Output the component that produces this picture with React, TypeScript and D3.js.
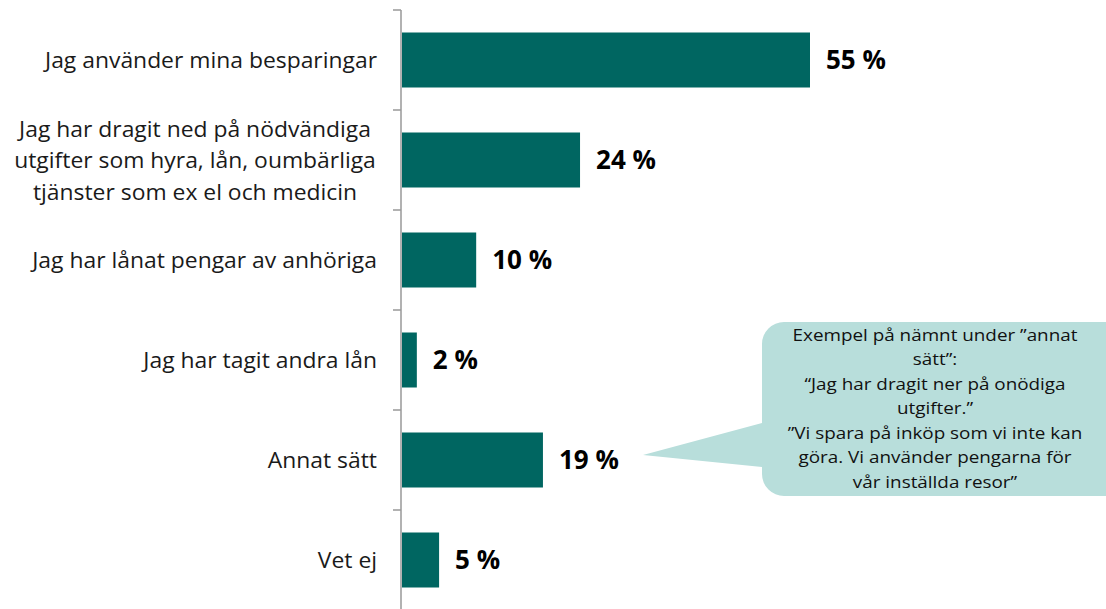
import React from "react";
import * as d3 from "d3";

const categories: string[][] = [
  ["Jag använder mina besparingar"],
  ["Jag har dragit ned på nödvändiga", "utgifter som hyra, lån, oumbärliga", "tjänster som ex el och medicin"],
  ["Jag har lånat pengar av anhöriga"],
  ["Jag har tagit andra lån"],
  ["Annat sätt"],
  ["Vet ej"],
];
const values: number[] = [55, 24, 10, 2, 19, 5];
const valueLabels: string[] = ["55 %", "24 %", "10 %", "2 %", "19 %", "5 %"];
const calloutLines: string[] = [
  "Exempel på nämnt under ”annat",
  "sätt”:",
  "“Jag har dragit ner på onödiga",
  "utgifter.”",
  "”Vi spara på inköp som vi inte kan",
  "göra. Vi använder pengarna för",
  "vår inställda resor”",
];

const W = 1106;
const H = 609;
const FONT = "'Open Sans', sans-serif";

export default function App() {
  const idx = categories.map((_, i) => String(i));
  const y = d3.scaleBand<string>().domain(idx).range([10, 610]).paddingInner(0.45).paddingOuter(0.225);
  const x = d3.scaleLinear().domain([0, 55]).range([402, 810]);
  const axisX = 401;
  const tickYs = d3.range(categories.length + 1).map((i) => 10 + i * 100);

  const cx = 935;
  const rect = { x: 762, y: 322, w: 380, h: 174, r: 22 };
  const tip = { x: 643, y: 455 };
  const calloutPath = (() => {
    const { x: rx, y: ry, w, h, r } = rect;
    const p = d3.path();
    p.moveTo(rx + r, ry);
    p.lineTo(rx + w - r, ry);
    p.arcTo(rx + w, ry, rx + w, ry + r, r);
    p.lineTo(rx + w, ry + h - r);
    p.arcTo(rx + w, ry + h, rx + w - r, ry + h, r);
    p.lineTo(rx + r, ry + h);
    p.arcTo(rx, ry + h, rx, ry + h - r, r);
    p.lineTo(rx, 467);
    p.lineTo(tip.x, tip.y);
    p.lineTo(rx, 423);
    p.lineTo(rx, ry + r);
    p.arcTo(rx, ry, rx + r, ry, r);
    p.closePath();
    return p.toString();
  })();

  const labelSx = 1.09;
  const calloutSx = 1.11;

  return (
    <svg width={W} height={H} style={{ position: "absolute", left: 0, top: 0, display: "block" }}>
      <rect width={W} height={H} fill="#ffffff" />
      <line x1={axisX} x2={axisX} y1={10} y2={H} stroke="#999999" strokeWidth={1.5} />
      {tickYs.map((ty) => (
        <line key={ty} x1={393} x2={axisX} y1={ty} y2={ty} stroke="#999999" strokeWidth={1.5} />
      ))}
      {values.map((v, i) => {
        const by = y(String(i))!;
        const bh = y.bandwidth();
        return (
          <g key={i}>
            <rect x={x(0)} y={by} width={x(v) - x(0)} height={bh} fill="#006661" />
            <text
              x={x(v) + 16}
              y={by + bh / 2}
              dy="0.36em"
              fontFamily={FONT}
              fontWeight={700}
              fontSize={26}
              fill="#000"
            >
              {valueLabels[i]}
            </text>
          </g>
        );
      })}
      {categories.map((lines, i) => {
        const c = y(String(i))! + y.bandwidth() / 2;
        const lh = 31.5;
        const start = c - ((lines.length - 1) * lh) / 2 + 1;
        const multi = lines.length > 1;
        const ax = multi ? 195 : 377;
        return (
          <text
            key={i}
            fontFamily={FONT}
            fontSize={21}
            fill="#1a1a1a"
            textAnchor={multi ? "middle" : "end"}
            transform={`translate(${ax},0) scale(${labelSx},1)`}
          >
            {lines.map((l, j) => (
              <tspan key={j} x={0} y={start + j * lh} dy="0.35em">
                {l}
              </tspan>
            ))}
          </text>
        );
      })}
      <path d={calloutPath} fill="#b8dedb" />
      <text
        fontFamily={FONT}
        fontSize={17}
        fill="#111"
        textAnchor="middle"
        transform={`translate(${cx},0) scale(${calloutSx},1)`}
      >
        {calloutLines.map((l, j) => (
          <tspan key={j} x={0} y={335 + j * 24.5} dy="0.35em">
            {l}
          </tspan>
        ))}
      </text>
    </svg>
  );
}
